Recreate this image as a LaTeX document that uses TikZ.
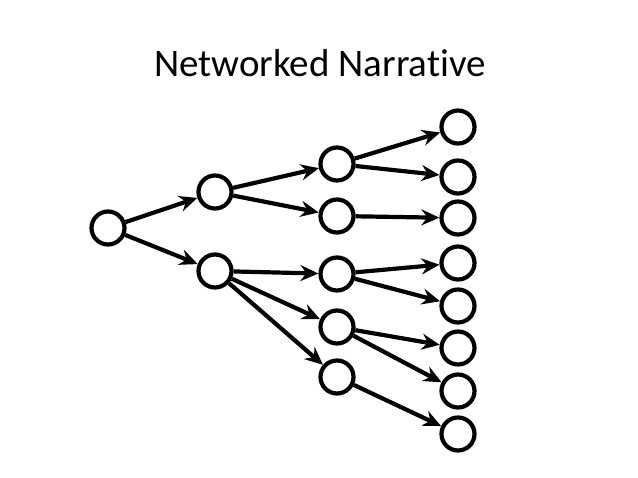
\documentclass[tikz,border=0pt]{standalone}
\usepackage{fontspec}
\setmainfont[RawFeature={-liga;-clig;-dlig}]{Carlito}
\usetikzlibrary{arrows.meta}
\begin{document}
\begin{tikzpicture}[x=1pt,y=-1pt,
  event/.style={circle,draw,line width=4.2pt,minimum size=33pt,inner sep=0pt},
  link/.style={line width=4.2pt,-{Stealth[length=18pt,width=16pt,inset=6pt]}}]
  \useasboundingbox (0,0) rectangle (638,478);
  \node (title) at (320,63) {\fontsize{39}{46}\selectfont Networked Narrative};
  % start
  \node[event] (s) at (108,228) {};
  % first branch
  \node[event] (a1) at (215,192) {};
  \node[event] (a2) at (215,271) {};
  % second branch
  \node[event] (b1) at (337,164) {};
  \node[event] (b2) at (337,216) {};
  \node[event] (b3) at (337,274) {};
  \node[event] (b4) at (337,327) {};
  \node[event] (b5) at (337,377) {};
  % endings
  \node[event] (c1) at (458,127) {};
  \node[event] (c2) at (458,177) {};
  \node[event] (c3) at (458,218) {};
  \node[event] (c4) at (458,263) {};
  \node[event] (c5) at (458,306) {};
  \node[event] (c6) at (458,348) {};
  \node[event] (c7) at (458,391) {};
  \node[event] (c8) at (458,434) {};
  \draw[link] (s) -- (a1);
  \draw[link] (s) -- (a2);
  \draw[link] (a1) -- (b1);
  \draw[link] (a1) -- (b2);
  \draw[link] (a2) -- (b3);
  \draw[link] (a2) -- (b4);
  \draw[link] (a2) -- (b5);
  \draw[link] (b1) -- (c1);
  \draw[link] (b1) -- (c2);
  \draw[link] (b2) -- (c3);
  \draw[link] (b3) -- (c4);
  \draw[link] (b3) -- (c5);
  \draw[link] (b4) -- (c6);
  \draw[link] (b4) -- (c7);
  \draw[link] (b5) -- (c8);
\end{tikzpicture}
\end{document}
